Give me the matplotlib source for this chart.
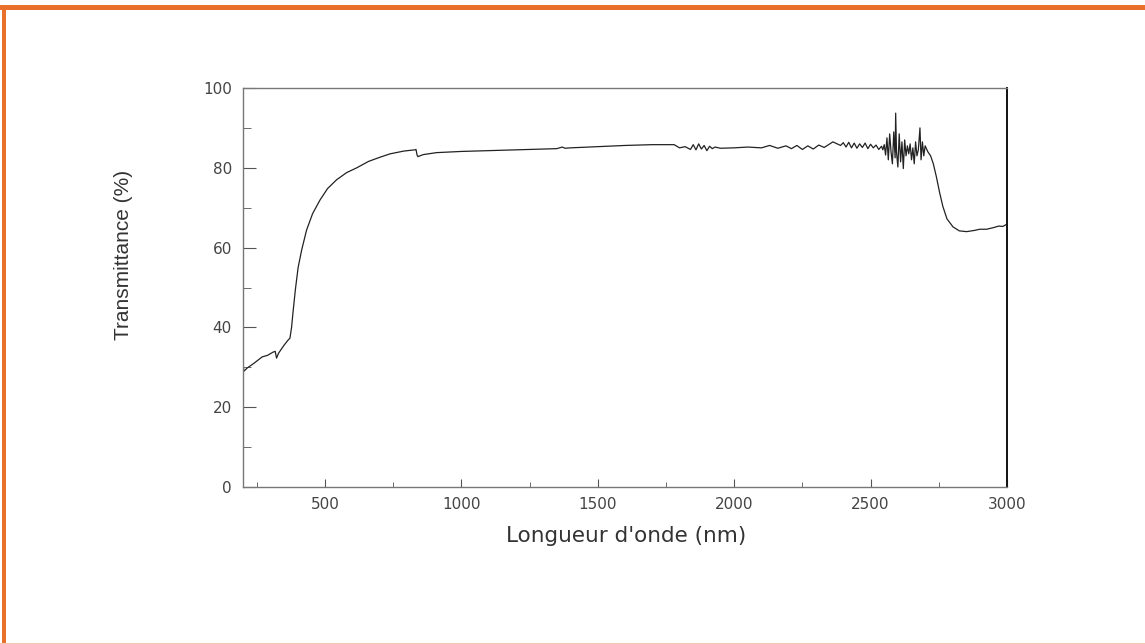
import matplotlib
matplotlib.use("Agg")
import matplotlib.pyplot as plt
from matplotlib.ticker import MultipleLocator
from matplotlib.patches import Rectangle

# spectre de transmittance
wavelength = [200, 201, 203, 215, 240, 270, 290, 310, 318, 323, 330, 350, 365, 372,
              378, 383, 392, 402, 415, 433, 455, 482, 510, 543, 580, 617, 660, 700,
              739, 790, 830, 834, 838, 841, 860, 909, 1000, 1100, 1252, 1350, 1370,
              1380, 1400, 1500, 1600, 1700, 1780, 1800, 1820, 1840, 1850, 1860, 1870,
              1880, 1890, 1900, 1910, 1920, 1930, 1950, 2000, 2050, 2100, 2130, 2160,
              2190, 2210, 2230, 2250, 2270, 2290, 2310, 2330, 2362, 2390, 2400, 2410,
              2420, 2430, 2440, 2450, 2460, 2470, 2480, 2490, 2500, 2510, 2520, 2530,
              2540, 2545, 2550, 2555, 2560, 2565, 2570, 2575, 2580, 2585, 2590, 2592,
              2595, 2600, 2605, 2610, 2615, 2620, 2625, 2630, 2635, 2640, 2645, 2650,
              2655, 2660, 2665, 2670, 2675, 2681, 2685, 2690, 2695, 2700, 2710, 2720,
              2730, 2741, 2753, 2765, 2780, 2802, 2825, 2852, 2880, 2900, 2925, 2950,
              2970, 2985, 3000]
transmittance = [40.0, 30.5, 29.0, 29.8, 31.0, 32.6, 33.0, 33.8, 34.0, 32.3, 33.5, 35.5, 36.8, 37.3,
                 40.0, 43.6, 49.5, 55.0, 59.4, 64.4, 68.5, 71.9, 74.8, 77.0, 78.8, 80.0, 81.6, 82.6,
                 83.5, 84.2, 84.5, 84.6, 83.2, 82.8, 83.3, 83.8, 84.1, 84.3, 84.6, 84.8, 85.2,
                 84.9, 85.0, 85.3, 85.6, 85.8, 85.8, 85.0, 85.3, 84.6, 85.8, 84.5, 86.0,
                 84.7, 85.6, 84.3, 85.4, 84.8, 85.2, 84.9, 85.0, 85.2, 85.0, 85.6, 84.9,
                 85.5, 84.8, 85.6, 84.6, 85.5, 84.7, 85.7, 85.1, 86.5, 85.6, 86.3, 85.2,
                 86.4, 85.0, 86.2, 84.9, 86.0, 85.1, 86.2, 84.8, 85.9, 85.0, 85.7, 84.6,
                 85.4, 84.5, 85.8, 83.2, 87.5, 82.0, 88.5, 84.0, 81.0, 89.0, 82.5, 93.7,
                 84.0, 80.2, 88.5, 81.5, 86.5, 79.8, 87.0, 83.0, 85.5, 83.5, 86.0, 82.0,
                 85.0, 81.0, 86.5, 83.0, 84.5, 90.0, 82.0, 86.5, 83.0, 85.5, 84.0, 83.0,
                 81.0, 77.8, 73.8, 70.3, 67.2, 65.2, 64.2, 64.0, 64.3, 64.6, 64.6, 65.0,
                 65.4, 65.3, 65.9]

fig = plt.figure(figsize=(11.45, 6.44), dpi=100)
fig.patch.set_facecolor("white")

# cadre orange autour de la page
orange = "#E8702A"
fig.add_artist(Rectangle((0, 1 - 10 / 644), 1, 5 / 644, transform=fig.transFigure,
                         color=orange, lw=0))
fig.add_artist(Rectangle((2 / 1145, 0), 3.5 / 1145, 1 - 5 / 644, transform=fig.transFigure,
                         color=orange, lw=0))
fig.add_artist(Rectangle((0, 0), 1, 1.5 / 644, transform=fig.transFigure,
                         color="#F5C9B0", lw=0))

ax = fig.add_axes([243 / 1145, 1 - 487 / 644, (1007 - 243) / 1145, (487 - 88) / 644])
ax.plot(wavelength, transmittance, color="#222222", lw=0.9)

ax.set_xlim(200, 3000)
ax.set_ylim(0, 100)
ax.xaxis.set_major_locator(MultipleLocator(500))
ax.xaxis.set_minor_locator(MultipleLocator(250))
ax.yaxis.set_major_locator(MultipleLocator(20))
ax.yaxis.set_minor_locator(MultipleLocator(10))
ax.tick_params(which="both", direction="in", colors="#555555", labelcolor="#444444",
               labelsize=11, top=False, right=False)
ax.tick_params(axis="x", which="major", length=6, pad=7)
ax.tick_params(axis="x", which="minor", length=3.5)
ax.tick_params(axis="y", which="major", length=9.5, pad=8)
ax.tick_params(axis="y", which="minor", length=6)
for lbl in ax.get_xticklabels() + ax.get_yticklabels():
    lbl.set_family("DejaVu Sans")

for s in ["left", "bottom", "top"]:
    ax.spines[s].set_color("#777777")
    ax.spines[s].set_linewidth(1.0)
ax.spines["right"].set_color("#111111")
ax.spines["right"].set_linewidth(1.4)

ax.set_xlabel("Longueur d'onde (nm)", fontsize=15.5, color="#333333",
              family="DejaVu Sans")
ax.xaxis.set_label_coords(0.502, -0.097)
ax.set_ylabel("Transmittance (%)", fontsize=15, color="#333333",
              family="Liberation Sans")
ax.yaxis.set_label_coords(-0.144, 0.581)

fig.savefig("out.png", dpi=100)
